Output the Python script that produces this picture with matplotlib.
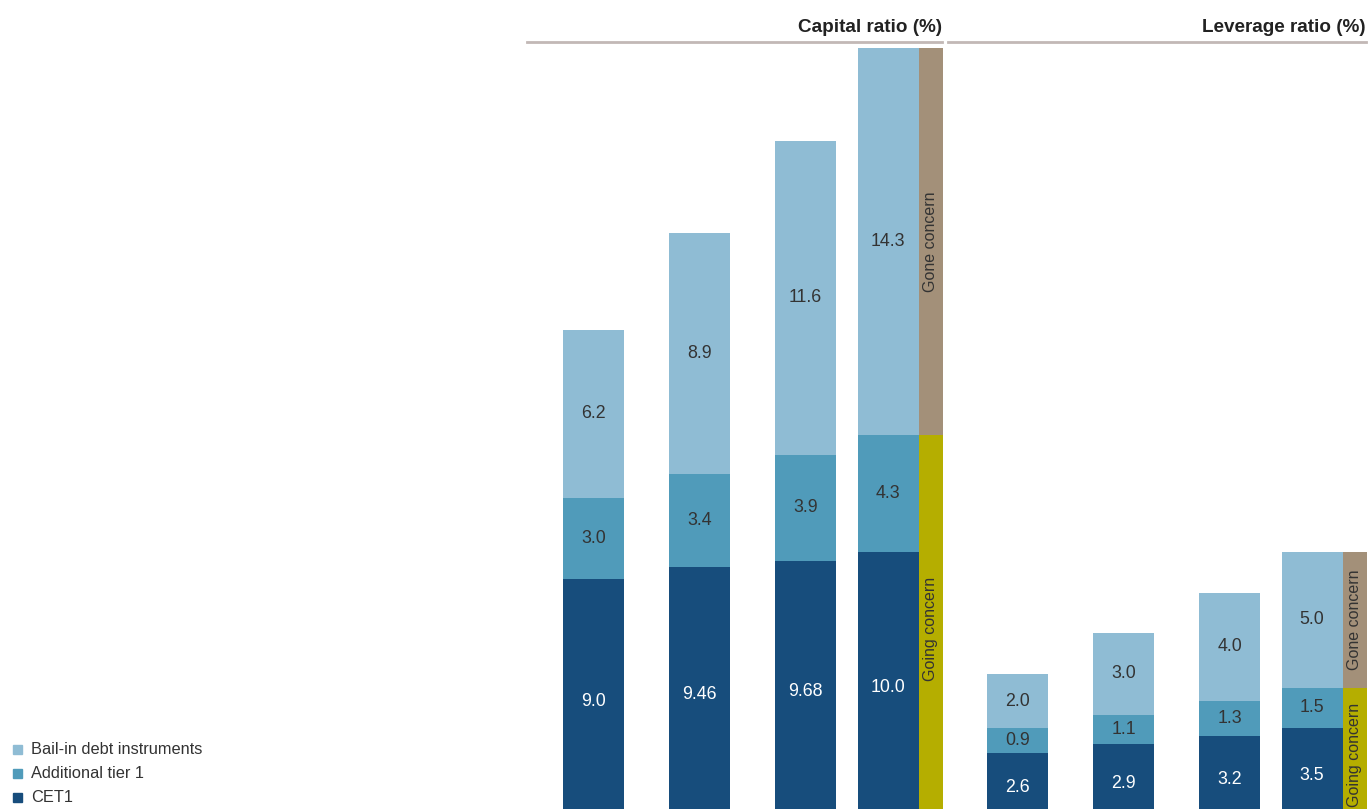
import matplotlib
matplotlib.use("Agg")
import matplotlib.pyplot as plt
from matplotlib.patches import Rectangle

plt.rcParams['font.family'] = ['Liberation Sans', 'DejaVu Sans']

# ---- data ----
capital_cet1 = [9.0, 9.46, 9.68, 10.0]
capital_at1 = [3.0, 3.4, 3.9, 4.3]
capital_bail = [6.2, 8.9, 11.6, 14.3]
capital_labels_cet1 = ["9.0", "9.46", "9.68", "10.0"]

leverage_cet1 = [2.6, 2.9, 3.2, 3.5]
leverage_at1 = [0.9, 1.1, 1.3, 1.5]
leverage_bail = [2.0, 3.0, 4.0, 5.0]
leverage_labels_cet1 = ["2.6", "2.9", "3.2", "3.5"]

series_names = ["Bail-in debt instruments", "Additional tier 1", "CET1"]
panel_titles = ["Capital ratio (%)", "Leverage ratio (%)"]
strip_labels = ["Going concern", "Gone concern"]

# ---- style / layout ----
C_CET1 = "#174d7c"
C_AT1 = "#509bba"
C_BAIL = "#8fbcd4"
C_GOING = "#b5ae00"
C_GONE = "#a39079"
C_TEXT = "#333333"
C_RULE = "#c2b8b6"

W, H = 1368, 809
fig = plt.figure(figsize=(W / 100, H / 100), dpi=100)
ax = fig.add_axes([0, 0, 1, 1])
ax.set_xlim(0, W)
px_per_unit = 27.1
base_px = 823
ax.set_ylim((base_px - H) / px_per_unit, base_px / px_per_unit)
ax.axis("off")

bar_w = 61
strip_w = 24
panels = [
    dict(centers=[593.5, 699.5, 805.5, 888.0], cet1=capital_cet1, at1=capital_at1,
         bail=capital_bail, lab=capital_labels_cet1, rule=(527, 942), title=panel_titles[0]),
    dict(centers=[1017.5, 1123.5, 1229.5, 1312.0], cet1=leverage_cet1, at1=leverage_at1,
         bail=leverage_bail, lab=leverage_labels_cet1, rule=(948, 1366), title=panel_titles[1]),
]

fs_num = 12.8
for p in panels:
    xs = p["centers"]
    cet1, at1, bail = p["cet1"], p["at1"], p["bail"]
    bottom2 = [a + b for a, b in zip(cet1, at1)]
    ax.bar(xs, cet1, width=bar_w, color=C_CET1, linewidth=0)
    ax.bar(xs, at1, width=bar_w, bottom=cet1, color=C_AT1, linewidth=0)
    ax.bar(xs, bail, width=bar_w, bottom=bottom2, color=C_BAIL, linewidth=0)
    for x, c, a, b, lab, b2 in zip(xs, cet1, at1, bail, p["lab"], bottom2):
        ax.text(x, c / 2, lab, ha="center", va="center", color="white", fontsize=fs_num)
        ax.text(x, c + a / 2, f"{a:.1f}", ha="center", va="center", color=C_TEXT, fontsize=fs_num)
        ax.text(x, b2 + b / 2, f"{b:.1f}", ha="center", va="center", color=C_TEXT, fontsize=fs_num)
    # strip beside last bar
    sx = xs[-1] + bar_w / 2
    going = bottom2[-1]
    gone = bail[-1]
    ax.bar([sx + strip_w / 2], [going], width=strip_w, color=C_GOING, linewidth=0)
    ax.bar([sx + strip_w / 2], [gone], width=strip_w, bottom=[going], color=C_GONE, linewidth=0)
    ax.text(sx + strip_w / 2, going / 2, strip_labels[0], rotation=90, ha="center", va="center",
            color=C_TEXT, fontsize=11.5)
    ax.text(sx + strip_w / 2, going + gone / 2, strip_labels[1], rotation=90, ha="center", va="center",
            color=C_TEXT, fontsize=11.5)
    # title and rule
    x0, x1 = p["rule"]
    fig.add_artist(plt.Line2D([x0 / W, x1 / W], [1 - 42 / H, 1 - 42 / H], color=C_RULE, lw=2,
                              transform=fig.transFigure))
    fig.text(x1 / W, 1 - 28 / H, p["title"], ha="right", va="center", fontsize=13.6,
             fontweight="bold", color="#222222")

# legend
leg_colors = [C_BAIL, C_AT1, C_CET1]
for i, (name, col) in enumerate(zip(series_names, leg_colors)):
    yc = 750 + 24 * i
    fig.patches.append(Rectangle((13 / W, 1 - (yc + 4) / H), 9 / W, 9 / H, color=col,
                                 transform=fig.transFigure))
    fig.text(31 / W, 1 - yc / H, name, ha="left", va="center", fontsize=11.8, color=C_TEXT)

fig.savefig("out.png", dpi=100)
